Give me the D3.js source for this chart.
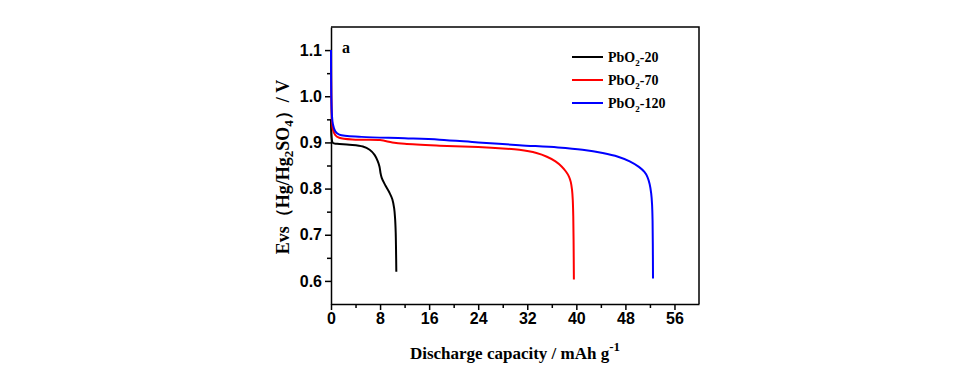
<!DOCTYPE html>
<html>
<head>
<meta charset="utf-8">
<script src="https://cdn.jsdelivr.net/npm/d3@7"></script>
<style>
  body { margin: 0; background: #fff; }
  svg text { fill: #000; }
  .tick text { font-family: Arial, "Liberation Sans", sans-serif; font-weight: bold; font-size: 16px; }
  .lbl { font-family: "Times New Roman", "Liberation Serif", serif; font-weight: bold; }
</style>
</head>
<body>
<div id="chart"></div>
<script>
// Discharge curves: [capacity mAh/g, potential V]
var pbo2_20 = [[0, 0.95], [0.1, 0.91], [0.3, 0.899], [1, 0.897], [3, 0.895], [5.2, 0.891],
  [6.3, 0.884], [7.1, 0.873], [7.6, 0.86], [7.9, 0.848], [8.1, 0.832], [8.3, 0.822],
  [8.9, 0.806], [9.5, 0.792], [10.0, 0.777], [10.3, 0.757], [10.45, 0.735], [10.55, 0.705],
  [10.6, 0.67], [10.65, 0.62]];
var pbo2_70 = [[0, 1.1], [0.05, 1.0], [0.15, 0.95], [0.3, 0.928], [0.7, 0.916], [1.35, 0.91],
  [4, 0.906], [8, 0.905], [10, 0.9], [12, 0.897], [17.7, 0.893], [24, 0.89], [28, 0.887],
  [30.7, 0.884], [33.5, 0.877], [35.2, 0.869], [36.6, 0.859], [37.6, 0.848], [38.3, 0.837],
  [38.8, 0.826], [39.1, 0.814], [39.3, 0.797], [39.42, 0.775], [39.5, 0.74], [39.55, 0.69],
  [39.6, 0.603]];
var pbo2_120 = [[0, 1.1], [0.05, 1.0], [0.15, 0.96], [0.3, 0.94], [0.7, 0.924], [1.35, 0.917],
  [5, 0.912], [12, 0.909], [17.7, 0.906], [24, 0.9], [30.7, 0.894], [37, 0.889], [41, 0.884],
  [44.3, 0.877], [46.8, 0.869], [48.7, 0.859], [50.2, 0.847], [51.1, 0.836], [51.6, 0.825],
  [51.95, 0.81], [52.2, 0.79], [52.35, 0.765], [52.43, 0.73], [52.47, 0.68], [52.5, 0.605]];

var seriesNames = ["PbO2-20", "PbO2-70", "PbO2-120"];
var seriesColors = ["#000000", "#ff0000", "#0000ff"];
var seriesData = [pbo2_20, pbo2_70, pbo2_120];

var xTicks = [0, 8, 16, 24, 32, 40, 48, 56];
var yTicks = [0.6, 0.7, 0.8, 0.9, 1.0, 1.1];

var width = 959, height = 381;
var margin = {top: 27, right: 260, bottom: 77, left: 331};

var svg = d3.select("#chart").append("svg")
    .attr("width", width)
    .attr("height", height);

var x = d3.scaleLinear().domain([0, 60]).range([margin.left, width - margin.right]);
var y = d3.scaleLinear().domain([0.55, 1.15]).range([height - margin.bottom, margin.top]);

// minor ticks first, then major ones on top
svg.append("g")
    .attr("transform", "translate(0," + y.range()[0] + ")")
    .call(d3.axisBottom(x).tickValues(d3.range(4, 60, 8)).tickSize(4).tickFormat(""))
    .call(function(g) { g.select(".domain").remove(); });
svg.append("g")
    .attr("transform", "translate(" + x.range()[0] + ",0)")
    .call(d3.axisLeft(y).tickValues([0.65, 0.75, 0.85, 0.95, 1.05]).tickSize(4).tickFormat(""))
    .call(function(g) { g.select(".domain").remove(); });

svg.append("g")
    .attr("transform", "translate(0," + y.range()[0] + ")")
    .call(d3.axisBottom(x).tickValues(xTicks).tickSize(6).tickSizeOuter(0).tickPadding(3));
svg.append("g")
    .attr("transform", "translate(" + x.range()[0] + ",0)")
    .call(d3.axisLeft(y).tickValues(yTicks).tickSize(6).tickSizeOuter(0).tickPadding(3)
      .tickFormat(d3.format(".1f")));

svg.selectAll(".tick line").attr("stroke", "#000").attr("stroke-width", 1.5);
svg.selectAll(".domain").attr("stroke", "#000").attr("stroke-width", 1.5);

// frame (top and right)
svg.append("path")
    .attr("d", "M" + x.range()[0] + "," + y.range()[1] + "H" + x.range()[1] + "V" + y.range()[0])
    .attr("fill", "none")
    .attr("stroke", "#000")
    .attr("stroke-width", 1.5);

var line = d3.line()
    .x(function(d) { return x(d[0]); })
    .y(function(d) { return y(d[1]); })
    .curve(d3.curveCatmullRom.alpha(0.5));

svg.append("g").selectAll("path")
    .data(seriesData)
    .enter()
    .append("path")
    .attr("d", line)
    .attr("fill", "none")
    .attr("stroke", function(d, i) { return seriesColors[i]; })
    .attr("stroke-width", 2);

// panel letter
svg.append("text")
    .attr("class", "lbl")
    .attr("x", 342)
    .attr("y", 53)
    .style("font-size", "16px")
    .text("a");

// legend
var legend = svg.append("g").attr("transform", "translate(572,57)");
var rows = legend.selectAll("g")
    .data(seriesNames)
    .enter()
    .append("g")
    .attr("transform", function(d, i) { return "translate(0," + (i * 23) + ")"; });
rows.append("line")
    .attr("x1", 0).attr("x2", 31)
    .attr("stroke", function(d, i) { return seriesColors[i]; })
    .attr("stroke-width", 2);
var lt = rows.append("text")
    .attr("class", "lbl")
    .attr("x", 36)
    .attr("y", 5)
    .style("font-size", "14px");
lt.append("tspan").text("PbO");
lt.append("tspan").attr("dy", 4).style("font-size", "9px").text("2");
lt.append("tspan").attr("dy", -4).text(function(d) { return d.slice(4); });

// x label
var xl = svg.append("text")
    .attr("class", "lbl")
    .attr("x", 515)
    .attr("y", 359)
    .attr("text-anchor", "middle")
    .style("font-size", "17px");
xl.append("tspan").text("Discharge capacity / mAh g");
xl.append("tspan").attr("dy", -8).style("font-size", "13px").text("-1");

// y label
var yl = svg.append("text")
    .attr("class", "lbl")
    .attr("transform", "translate(289,167) rotate(-90)")
    .attr("text-anchor", "middle")
    .style("font-size", "18px");
yl.append("tspan").text("Evs（Hg/Hg");
yl.append("tspan").attr("dy", 4).style("font-size", "13px").text("2");
yl.append("tspan").attr("dy", -4).text("SO");
yl.append("tspan").attr("dy", 4).style("font-size", "13px").text("4");
yl.append("tspan").attr("dy", -4).text("）/ V");
</script>
</body>
</html>
